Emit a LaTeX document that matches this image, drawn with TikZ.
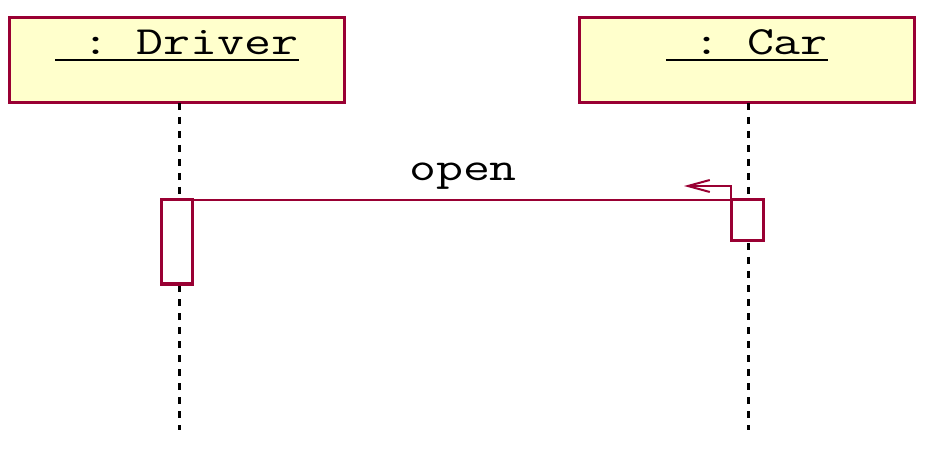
\documentclass[tikz,border=0pt]{standalone}
\usetikzlibrary{arrows.meta}
\definecolor{umlred}{HTML}{990033}
\definecolor{umlfill}{HTML}{FFFFCC}
\newcommand{\widett}[1]{\scalebox{1.31}[1]{\ttfamily\fontsize{40}{46}\selectfont #1}}
\tikzset{
  x=1pt, y=1pt,
  objbox/.style={draw=umlred, fill=umlfill, line width=3pt, minimum width=335pt, minimum height=85pt, inner sep=0pt},
  objlabel/.style={inner sep=0pt, anchor=base},
  uline/.style={line width=2pt, black},
  lifeline/.style={line width=3pt, black, dash pattern=on 7pt off 7pt},
  actbox/.style={draw=umlred, fill=white, line width=3pt},
  msg/.style={draw=umlred, line width=2pt},
}
\begin{document}
\begin{tikzpicture}
\useasboundingbox (0,0) rectangle (928,450);
% object boxes
\node[objbox] (driver) at (176.5,389.5) {};
\node[objbox] (car) at (746.5,389.5) {};
\node[objlabel] (dl) at (177,395) {\widett{\phantom{x}:\phantom{x}Driver}};
\node[objlabel] (cl) at (747,395) {\widett{\phantom{x}:\phantom{x}Car}};
\draw[uline] ([yshift=-5pt]dl.base west) -- ([yshift=-5pt]dl.base east);
\draw[uline] ([yshift=-5pt]cl.base west) -- ([yshift=-5pt]cl.base east);
% lifelines
\coordinate (dtop) at (179,347);
\coordinate (dbot) at (179,20);
\coordinate (ctop) at (748,347);
\coordinate (cbot) at (748,20);
\draw[lifeline] (dtop) -- (dbot);
\draw[lifeline] (ctop) -- (cbot);
% activations
\draw[actbox] (161,166) rectangle (192,250);
\coordinate (da) at (192,250);
\draw[actbox] (731,209) rectangle (763,250);
\coordinate (cane) at (763,250);
\coordinate (canw) at (731,250);
% message
\draw[msg] (da) -- (cane);
\coordinate (bend) at (731,264);
\coordinate (tip) at (684,264);
\draw[msg, -{Straight Barb[length=22pt,width=12pt]}] (canw) -- (bend) -- (tip);
\node[objlabel] (open) at (463,269) {\widett{open}};
\end{tikzpicture}
\end{document}
